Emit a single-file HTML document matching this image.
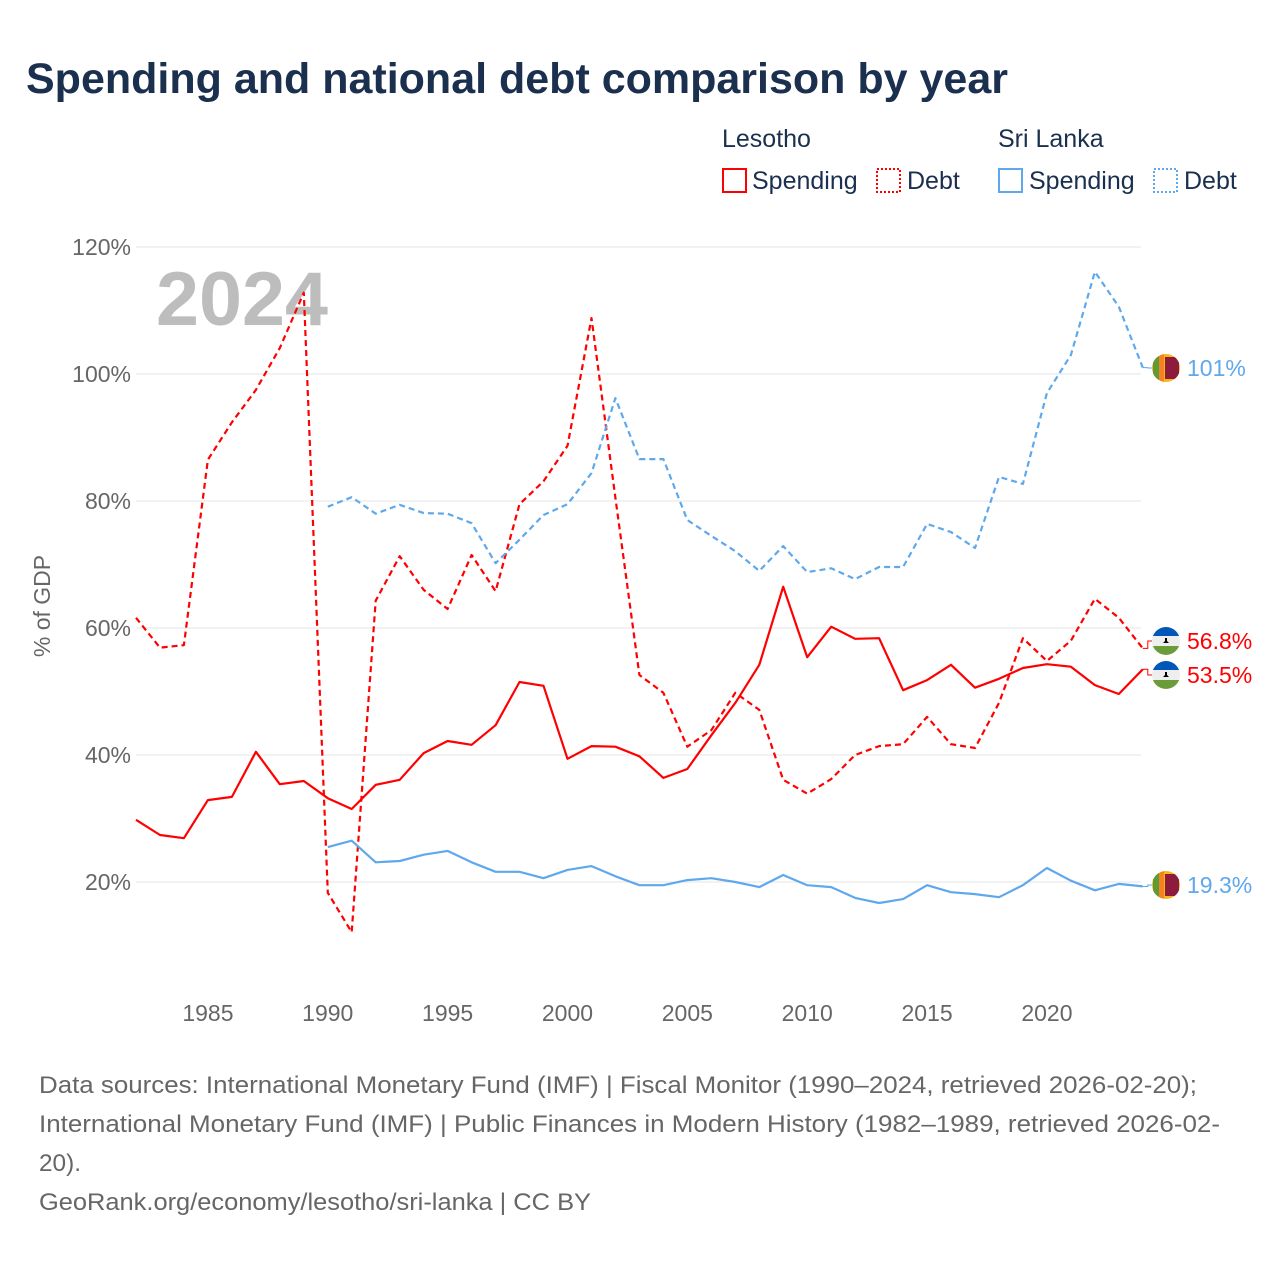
<!DOCTYPE html>
<html><head><meta charset="utf-8"><style>
body{margin:0;background:#fff;font-family:"Liberation Sans",sans-serif}
</style></head><body>
<svg id="chart" width="1280" height="1280" xmlns="http://www.w3.org/2000/svg" font-family="Liberation Sans, sans-serif">
<text x="26" y="93" font-size="43" font-weight="bold" fill="#1b2f4e">Spending and national debt comparison by year</text>
<g font-size="25" fill="#1b2f4e">
<text x="722" y="147">Lesotho</text>
<text x="998" y="147">Sri Lanka</text>
<rect x="723" y="169" width="23" height="23" fill="none" stroke="#f00" stroke-width="2"/>
<text x="752" y="189">Spending</text>
<rect x="877" y="169" width="23" height="23" fill="none" stroke="#f00" stroke-width="2" stroke-dasharray="2,2"/>
<text x="907" y="189">Debt</text>
<rect x="999" y="169" width="23" height="23" fill="none" stroke="#5fa8ec" stroke-width="2"/>
<text x="1029" y="189">Spending</text>
<rect x="1154" y="169" width="23" height="23" fill="none" stroke="#5fa8ec" stroke-width="2" stroke-dasharray="2,2"/>
<text x="1184" y="189">Debt</text>
</g>
<g id="grid"></g>
<g id="yticks" font-size="23" fill="#666" text-anchor="end"></g>
<g id="xticks" font-size="23" fill="#666" text-anchor="middle"></g>
<text transform="translate(50,606) rotate(-90)" font-size="23" fill="#666" text-anchor="middle">% of GDP</text>
<text x="156" y="325" font-size="76" font-weight="bold" fill="#bdbdbd" textLength="172" lengthAdjust="spacingAndGlyphs">2024</text>
<g id="series"></g>
<g id="ends"></g>
<g font-size="24" fill="#666">
<text x="39" y="1093" textLength="1158" lengthAdjust="spacingAndGlyphs">Data sources: International Monetary Fund (IMF) | Fiscal Monitor (1990–2024, retrieved 2026-02-20);</text>
<text x="39" y="1132" textLength="1181" lengthAdjust="spacingAndGlyphs">International Monetary Fund (IMF) | Public Finances in Modern History (1982–1989, retrieved 2026-02-</text>
<text x="39" y="1171" textLength="42" lengthAdjust="spacingAndGlyphs">20).</text>
<text x="39" y="1210" textLength="552" lengthAdjust="spacingAndGlyphs">GeoRank.org/economy/lesotho/sri-lanka | CC BY</text>
</g>
</svg>
<script>
const yTicks=[20,40,60,80,100,120];
const xTicks=[1985,1990,1995,2000,2005,2010,2015,2020];
const lsoYears=[1982,1983,1984,1985,1986,1987,1988,1989,1990,1991,1992,1993,1994,1995,1996,1997,1998,1999,2000,2001,2002,2003,2004,2005,2006,2007,2008,2009,2010,2011,2012,2013,2014,2015,2016,2017,2018,2019,2020,2021,2022,2023,2024];
const lsoSpending=[29.8,27.4,26.9,32.9,33.4,40.5,35.4,35.9,33.2,31.5,35.3,36.1,40.3,42.2,41.6,44.7,51.5,50.9,39.4,41.4,41.3,39.8,36.4,37.8,43.1,48.2,54.2,66.5,55.4,60.2,58.3,58.4,50.2,51.8,54.2,50.6,52.0,53.7,54.3,53.9,51.0,49.6,53.5];
const lsoDebt=[61.6,56.9,57.3,86.5,92.4,97.5,104.1,112.8,18.3,12.1,64.3,71.3,66.0,63.0,71.5,65.8,79.5,83.1,88.7,108.8,80.5,52.6,49.8,41.3,43.9,49.8,47.1,36.1,33.9,36.2,40.0,41.4,41.7,46.0,41.7,41.1,48.2,58.4,54.8,58.0,64.6,61.6,56.8];
const lkaYears=[1990,1991,1992,1993,1994,1995,1996,1997,1998,1999,2000,2001,2002,2003,2004,2005,2006,2007,2008,2009,2010,2011,2012,2013,2014,2015,2016,2017,2018,2019,2020,2021,2022,2023,2024];
const lkaSpending=[25.5,26.5,23.1,23.3,24.3,24.9,23.1,21.6,21.6,20.6,21.9,22.5,20.9,19.5,19.5,20.3,20.6,20.0,19.2,21.1,19.5,19.2,17.5,16.7,17.3,19.5,18.4,18.1,17.6,19.5,22.2,20.2,18.7,19.7,19.3];
const lkaDebt=[79.1,80.6,78.0,79.4,78.1,78.0,76.5,70.2,73.9,77.8,79.5,84.4,96.2,86.6,86.6,77.0,74.5,72.1,69.0,72.9,68.8,69.4,67.7,69.6,69.6,76.4,75.1,72.6,83.8,82.7,97.0,103.0,116.1,110.6,101.0];
const NS='http://www.w3.org/2000/svg';
const X=y=>136+(y-1982)*(1047-208)/35;
const Y=v=>882-(v-20)*6.35;
function mk(t,a,p){const e=document.createElementNS(NS,t);for(const k in a)e.setAttribute(k,a[k]);p.appendChild(e);return e;}
const grid=document.getElementById('grid'),yt=document.getElementById('yticks'),xt=document.getElementById('xticks');
yTicks.forEach(v=>{
 const l=mk('line',{x1:136,x2:1141,y1:Y(v),y2:Y(v),stroke:'#e6e6e6','stroke-width':1},grid);
 
 
 const t=mk('text',{x:131,y:Y(v)+8},yt);t.textContent=v+'%';
 
 
});
xTicks.forEach(v=>{
 const t=mk('text',{x:X(v),y:1021},xt);t.textContent=v;
 
 
});
const S=document.getElementById('series'),E=document.getElementById('ends');
function line(years,vals,color,dash,name){
 const d=years.map((y,i)=>(i?'L':'M')+X(y).toFixed(1)+','+Y(vals[i]).toFixed(1)).join('');
 const p=mk('path',{d:d,fill:'none',stroke:color,'stroke-width':2.2,'stroke-linejoin':'round'},S);
 if(dash)p.setAttribute('stroke-dasharray','6,4');
 
 
}
line(lsoYears,lsoDebt,'#f00',true,'line-lesotho-debt');
line(lsoYears,lsoSpending,'#f00',false,'line-lesotho-spending');
line(lkaYears,lkaDebt,'#5fa8ec',true,'line-sri-lanka-debt');
line(lkaYears,lkaSpending,'#5fa8ec',false,'line-sri-lanka-spending');
function flag(cx,cy,type,p){
 const g=mk('g',{},p);
 const id='c'+Math.round(cy);
 const cp=mk('clipPath',{id:id},g);mk('circle',{cx:cx,cy:cy,r:14},cp);
 const h=mk('g',{'clip-path':'url(#'+id+')'},g);
 if(type==='lso'){
  mk('rect',{x:cx-14,y:cy-14,width:28,height:9,fill:'#0057b8'},h);
  mk('rect',{x:cx-14,y:cy-5,width:28,height:10,fill:'#eee'},h);
  mk('rect',{x:cx-14,y:cy+5,width:28,height:9,fill:'#6a9c3a'},h);
  mk('path',{d:`M${cx-3},${cy+2}h6l-2,-2v-3h-2v3z`,fill:'#000'},h);
 }else{
  mk('rect',{x:cx-14,y:cy-14,width:28,height:28,fill:'#f7b718'},h);
  mk('rect',{x:cx-13,y:cy-14,width:6,height:28,fill:'#5d9b3a'},h);
  mk('rect',{x:cx-7,y:cy-14,width:5,height:28,fill:'#f58220'},h);
  mk('rect',{x:cx-1,y:cy-11,width:14,height:22,fill:'#8d1b3d'},h);
 }
 return g;
}
function endLabel(val,labelY,color,type,text,name){
 const x0=X(2024),fx=1166;
 const c=mk('path',{d:`M${x0},${Y(val)}H${x0+5}V${labelY}H${fx-14}`,fill:'none',stroke:color,'stroke-width':1},E);
 
 
 const f=flag(fx,labelY,type,E);
 
 
 const t=mk('text',{x:1187,y:labelY+8,fill:color,'font-size':23},E);t.textContent=text;
 
 
}
endLabel(lkaDebt[lkaDebt.length-1],368,'#5fa8ec','lka',lkaDebt[lkaDebt.length-1].toFixed(0)+'%','end-sri-lanka-debt');
endLabel(lsoDebt[lsoDebt.length-1],641,'#f00','lso',lsoDebt[lsoDebt.length-1].toFixed(1)+'%','end-lesotho-debt');
endLabel(lsoSpending[lsoSpending.length-1],675,'#f00','lso',lsoSpending[lsoSpending.length-1].toFixed(1)+'%','end-lesotho-spending');
endLabel(lkaSpending[lkaSpending.length-1],885,'#5fa8ec','lka',lkaSpending[lkaSpending.length-1].toFixed(1)+'%','end-sri-lanka-spending');
</script>
</body></html>
